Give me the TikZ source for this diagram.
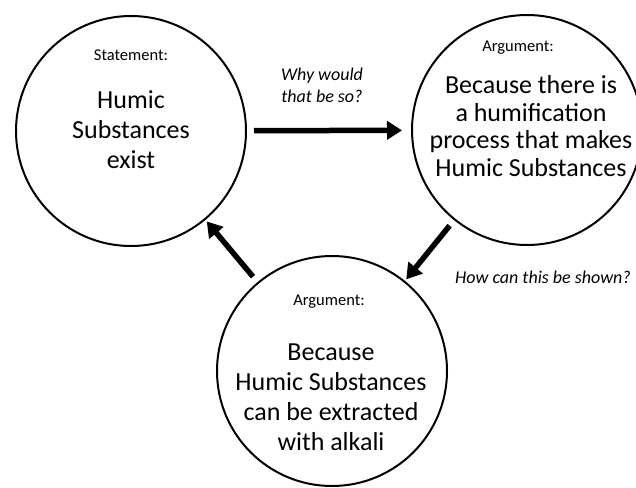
\documentclass[tikz,border=0pt]{standalone}
\usepackage{fontspec}
\setmainfont{Carlito}
\usetikzlibrary{positioning,arrows.meta}
\tikzset{
  bubble/.style={circle, draw, line width=2pt, minimum size=230pt, inner sep=0pt},
  head/.style={font=\fontsize{16.5}{19}\selectfont},
  claim/.style={align=center, font=\fontsize{26}{30}\selectfont},
  why/.style={align=center, font=\fontsize{18}{22}\selectfont\itshape},
  push/.style={-{Triangle[length=15pt,width=18pt]}, line width=5.5pt, shorten <=7pt, shorten >=2pt}
}

\begin{document}
\begin{tikzpicture}[x=1pt,y=-1pt]
  \path[use as bounding box, clip] (0,0) rectangle (636,487);

  %Circles
  \node[bubble] at (131,131) (S) {};
  \node[bubble] at (527,130) (A) {};
  \node[bubble] at (332,371) (A') {};

  %Texts
  \node[head] at (131,55) (Sh) {Statement:};
  \node[claim] at (131,130) (St) {Humic\\Substances\\exist};
  \node[head] at (518,48) (Ah) {Argument:};
  \node[claim, font=\fontsize{26}{27.5}\selectfont] at (531,126) (At) {Because there is\\a humification\\process that makes\\Humic Substances};
  \node[head] at (329,302) (A'h) {Argument:};
  \node[claim] at (331,397) (A't) {Because\\Humic Substances\\can be extracted\\with alkali};

  %Arrows
  \draw[push, shorten >=9pt] (S) -- (A) node[midway, above=22pt, xshift=-7pt, why] (why) {Why would\\that be so?};
  \draw[push] (A) -- (A');
  \draw[push] (A') -- (S);
  \node[why] at (543,277) (how) {How can this be shown?};
\end{tikzpicture}
\end{document}
